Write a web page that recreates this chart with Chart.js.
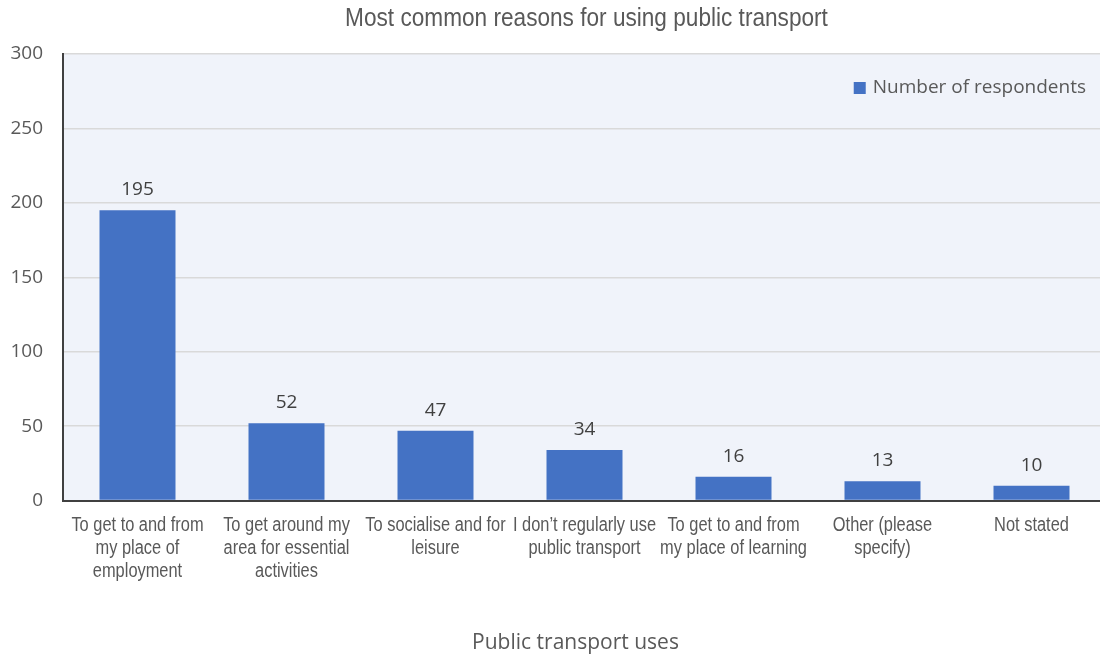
<!DOCTYPE html>
<html>
<head>
<meta charset="utf-8">
<script src="https://cdn.jsdelivr.net/npm/chart.js@4/dist/chart.umd.min.js"></script>
<style>
  html, body { margin: 0; padding: 0; background: #fff; }
  #wrap { width: 1100px; height: 659px; overflow: hidden; }
  #inner { width: 1106px; height: 659px; }
</style>
</head>
<body>
<div id="wrap"><div id="inner"><canvas id="uses_Chart"></canvas></div></div>
<script>
// categorias e valores
const reasons = [
  ['To get to and from', 'my place of', 'employment'],
  ['To get around my', 'area for essential', 'activities'],
  ['To socialise and for', 'leisure'],
  ['I don\u2019t regularly use', 'public transport'],
  ['To get to and from', 'my place of learning'],
  ['Other (please', 'specify)'],
  ['Not stated']
];
const respondents = [195, 52, 47, 34, 16, 13, 10];
const yTicks = [0, 50, 100, 150, 200, 250, 300];

const chartTitle = 'Most common reasons for using public transport';
const xTitle = 'Public transport uses';

const textGray = '#595959';
const barBlue = '#4472C4';
const viewRight = 1100; // a área do gráfico passa um pouco da borda visível

// texto comprimido na horizontal (fonte estreita simulada)
function narrowText(ctx, text, x, y, k) {
  ctx.save();
  ctx.translate(x, y);
  ctx.scale(k, 1);
  ctx.fillText(text, 0, 0);
  ctx.restore();
}

// fundo da área do gráfico, títulos, legenda e rótulos
const extras = {
  id: 'extras',
  beforeDraw(chart) {
    const { ctx, chartArea: a } = chart;
    ctx.save();
    ctx.fillStyle = '#F0F3FA';
    ctx.fillRect(a.left, a.top, a.right - a.left, a.bottom - a.top);
    ctx.restore();
  },
  afterDraw(chart) {
    const { ctx, chartArea: a } = chart;
    const mid = (a.left + viewRight) / 2;
    ctx.save();
    // título
    ctx.fillStyle = textGray;
    ctx.font = '26px "Liberation Sans"';
    ctx.textAlign = 'center';
    ctx.textBaseline = 'middle';
    narrowText(ctx, chartTitle, mid + 5, 19, 0.87);

    // título do eixo x (o espaço vem do próprio eixo)
    const xs = chart.scales.x;
    ctx.font = '21px "Open Sans"';
    ctx.fillText(xTitle, mid - 6, 643);

    // rótulos do eixo x
    ctx.font = '20px "Liberation Sans"';
    reasons.forEach((lines, i) => {
      const cx = xs.getPixelForTick(i);
      lines.forEach((line, j) => {
        narrowText(ctx, line, cx, a.bottom + 25 + j * 23, 0.82);
      });
    });

    // legenda
    const ds = chart.data.datasets[0];
    ctx.font = '19px "Open Sans"';
    ctx.textAlign = 'right';
    const lx = viewRight - 14;
    const ly = a.top + 34;
    const w = ctx.measureText(ds.label).width;
    ctx.fillText(ds.label, lx, ly);
    ctx.fillStyle = ds.backgroundColor;
    ctx.fillRect(lx - w - 19, ly - 6, 12, 12);

    // rótulos dos valores
    ctx.fillStyle = '#404040';
    ctx.font = '19px "Open Sans"';
    ctx.textAlign = 'center';
    ctx.textBaseline = 'bottom';
    chart.getDatasetMeta(0).data.forEach((bar, i) => {
      ctx.fillText(ds.data[i], bar.x, bar.y - 11);
    });
    ctx.restore();
  }
};

const chartCanvas = document.getElementById('uses_Chart');

const data = {
  labels: reasons,
  datasets: [{
    label: 'Number of respondents',
    data: respondents,
    backgroundColor: barBlue,
    barPercentage: 0.51,
    categoryPercentage: 1
  }]
};

const config = {
  type: 'bar',
  data: data,
  options: {
    responsive: true,
    maintainAspectRatio: false,
    animation: false,
    layout: { padding: { top: 54, left: 8, right: 0, bottom: 1 } },
    plugins: {
      legend: { display: false },
      tooltip: { enabled: false }
    },
    scales: {
      x: {
        grid: { display: false, drawTicks: false },
        border: { display: true, color: '#404040', width: 2 },
        afterFit(scale) {
          scale.paddingLeft = 0;
          scale.paddingRight = 0;
        },
        ticks: {
          // reservam o espaço; o texto é desenhado pelo plugin
          color: 'rgba(0,0,0,0)',
          font: { family: '"Liberation Sans"', size: 15, lineHeight: '23px' },
          padding: 14,
          maxRotation: 0,
          autoSkip: false
        },
        title: {
          display: true,
          text: xTitle,
          color: 'rgba(0,0,0,0)',
          font: { family: '"Open Sans"', size: 22, weight: '300' },
          padding: { top: 34, bottom: 0 }
        }
      },
      y: {
        min: 0,
        max: 300,
        afterBuildTicks(scale) {
          scale.ticks = yTicks.map(v => ({ value: v }));
        },
        afterFit(scale) {
          scale.width = 55;
        },
        grid: { color: '#D9D9D9', lineWidth: 1.5, drawTicks: false },
        border: { display: true, color: '#404040', width: 2 },
        ticks: {
          color: textGray,
          font: { family: '"Open Sans"', size: 19 },
          padding: 20
        }
      }
    }
  },
  plugins: [extras]
};

const usesChart = new Chart(chartCanvas, config);
</script>
</body>
</html>
